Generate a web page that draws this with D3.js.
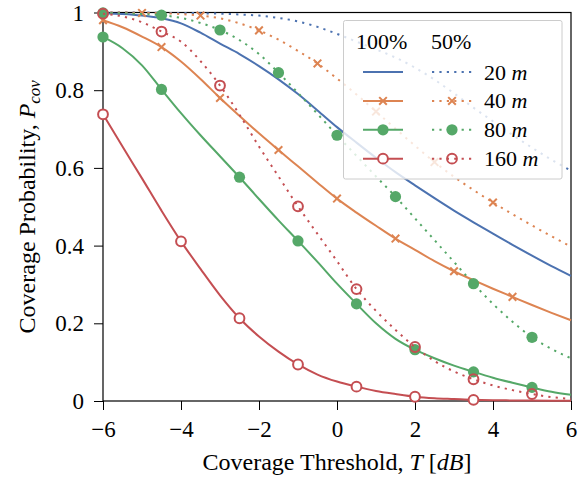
<!DOCTYPE html>
<html><head><meta charset="utf-8">
<script src="https://cdn.jsdelivr.net/npm/d3@7"></script>
<style>
body{margin:0;background:#fff}
text{font-family:"Liberation Serif","Times New Roman",serif;fill:#000}
</style>
</head><body>
<svg id="chart" width="588" height="482"></svg>
<script>
// ---------- data ----------
const thresholds = [-6,-5.5,-5,-4.5,-4,-3.5,-3,-2.5,-2,-1.5,-1,-0.5,0,0.5,1,1.5,2,2.5,3,3.5,4,4.5,5,5.5,6];
const xTicks = [-6,-4,-2,0,2,4,6];
const yTicks = [0,0.2,0.4,0.6,0.8,1];
const radii = ["20","40","80","160"];
const loadLabels = ["100%","50%"];

// 100% load
const full20  = [0.998,0.996,0.992,0.985,0.972,0.948,0.920,0.893,0.862,0.828,0.790,0.748,0.705,0.665,0.626,0.589,0.555,0.522,0.490,0.460,0.431,0.402,0.374,0.347,0.322];
const full40  = [0.980,0.962,0.938,0.911,0.874,0.829,0.780,0.734,0.689,0.646,0.604,0.562,0.521,0.485,0.451,0.418,0.389,0.360,0.334,0.311,0.289,0.268,0.247,0.227,0.208];
const full80  = [0.937,0.908,0.864,0.802,0.741,0.684,0.630,0.576,0.520,0.465,0.412,0.358,0.302,0.250,0.200,0.160,0.132,0.110,0.091,0.075,0.060,0.047,0.035,0.024,0.016];
const full160 = [0.738,0.655,0.573,0.490,0.411,0.340,0.272,0.213,0.166,0.127,0.094,0.068,0.050,0.037,0.026,0.018,0.011,0.007,0.005,0.003,0.002,0.0015,0.001,0.0007,0.0005];
// 50% load
const half20  = [1.000,1.000,1.000,0.999,0.999,0.998,0.997,0.995,0.992,0.986,0.977,0.963,0.945,0.925,0.905,0.884,0.858,0.827,0.792,0.755,0.720,0.685,0.652,0.621,0.593];
const half40  = [1.000,1.000,0.999,0.998,0.996,0.992,0.985,0.972,0.954,0.930,0.901,0.869,0.830,0.789,0.745,0.701,0.657,0.615,0.577,0.543,0.511,0.481,0.452,0.424,0.397];
const half80  = [0.999,0.998,0.996,0.993,0.986,0.973,0.955,0.929,0.893,0.845,0.793,0.739,0.684,0.631,0.578,0.526,0.470,0.414,0.358,0.302,0.250,0.204,0.164,0.134,0.110];
const half160 = [0.997,0.990,0.975,0.951,0.925,0.875,0.812,0.737,0.655,0.578,0.501,0.430,0.360,0.288,0.232,0.183,0.139,0.103,0.076,0.056,0.040,0.028,0.018,0.010,0.005];

// thresholds where markers are shown
const markFull20  = [];
const markFull40  = [-6,-4.5,-3,-1.5,0,1.5,3,4.5];
const markFull80  = [-6,-4.5,-2.5,-1,0.5,2,3.5,5];
const markFull160 = [-6,-4,-2.5,-1,0.5,2,3.5];
const markHalf20  = [];
const markHalf40  = [-5,-3.5,-2,-0.5,1,2.5,4];
const markHalf80  = [-6,-4.5,-3,-1.5,0,1.5,3.5,5];
const markHalf160 = [-6,-4.5,-3,-1,0.5,2,3.5,5];

// ---------- styles ----------
const colors = ["#4c72b0","#dd8452","#55a868","#c44e52"];
const markerTypes = ["none","x","dot","ring"];

const series = [
  {vals: full20,  marks: markFull20,  ci:0, half:false},
  {vals: full40,  marks: markFull40,  ci:1, half:false},
  {vals: full80,  marks: markFull80,  ci:2, half:false},
  {vals: full160, marks: markFull160, ci:3, half:false},
  {vals: half20,  marks: markHalf20,  ci:0, half:true},
  {vals: half40,  marks: markHalf40,  ci:1, half:true},
  {vals: half80,  marks: markHalf80,  ci:2, half:true},
  {vals: half160, marks: markHalf160, ci:3, half:true}
];

const m = {l:103, r:571, t:12.5, b:401};
const svg = d3.select("#chart");
const x = d3.scaleLinear().domain([-6,6]).range([m.l, m.r]);
const y = d3.scaleLinear().domain([0,1]).range([m.b, m.t]);
const DOT = "2.2,5.2";
const TICK_FS = 23, LABEL_FS = 24, LEG_FS = 22;

// axes
const fmtY = d => d === 0 ? "0" : (d === 1 ? "1" : d3.format(".1f")(d));
const fmtX = d => d < 0 ? "\u2212" + Math.abs(d) : String(d);

const gx = svg.append("g").attr("transform", `translate(0,${m.b})`)
  .call(d3.axisBottom(x).tickValues(xTicks).tickFormat(fmtX).tickSize(9).tickPadding(6));
const gy = svg.append("g").attr("transform", `translate(${m.l},0)`)
  .call(d3.axisLeft(y).tickValues(yTicks).tickFormat(fmtY).tickSize(9).tickPadding(10));
[gx, gy].forEach(g => {
  g.select(".domain").remove();
  g.selectAll(".tick line").attr("stroke","#000").attr("stroke-width",1);
  g.selectAll(".tick text").attr("font-size",TICK_FS).attr("font-family","'Liberation Serif',serif").attr("fill","#000");
});
gx.selectAll(".tick text").attr("dy","0.9em");
gy.selectAll(".tick text").attr("dy","0.33em");

svg.append("rect").attr("x",m.l).attr("y",m.t).attr("width",m.r-m.l).attr("height",m.b-m.t)
  .attr("fill","none").attr("stroke","#000").attr("stroke-width",1.2);

// axis labels
const xl = svg.append("text").attr("x",(m.l+m.r)/2).attr("y",470).attr("text-anchor","middle").attr("font-size",LABEL_FS);
xl.append("tspan").text("Coverage Threshold, ");
xl.append("tspan").attr("font-style","italic").text("T");
xl.append("tspan").text(" [");
xl.append("tspan").attr("font-style","italic").text("dB");
xl.append("tspan").text("]");

const yl = svg.append("text").attr("transform",`translate(35,${(m.t+m.b)/2}) rotate(-90)`)
  .attr("text-anchor","middle").attr("font-size",LABEL_FS);
yl.append("tspan").text("Coverage Probability, ");
yl.append("tspan").attr("font-style","italic").text("P");
yl.append("tspan").attr("font-style","italic").attr("font-size",17).attr("dy",5).text("cov");

// markers
function drawMarker(g, type, color, cx, cy, half) {
  if (type === "x") {
    const s = 3.8;
    g.append("path").attr("d",`M${cx-s},${cy-s}L${cx+s},${cy+s}M${cx-s},${cy+s}L${cx+s},${cy-s}`)
      .attr("stroke",color).attr("stroke-width",2).attr("fill","none");
  } else if (type === "dot") {
    g.append("circle").attr("cx",cx).attr("cy",cy).attr("r",5.6).attr("fill",color);
  } else if (type === "ring") {
    g.append("circle").attr("cx",cx).attr("cy",cy).attr("r",4.9)
      .attr("fill", half ? "none" : "#fff").attr("stroke",color).attr("stroke-width",2);
  }
}

const line = d3.line().x((d,i)=>x(thresholds[i])).y(d=>y(d)).curve(d3.curveMonotoneX);
const plot = svg.append("g");
series.forEach(s => {
  const col = colors[s.ci];
  plot.append("path").attr("d", line(s.vals)).attr("fill","none").attr("stroke",col)
    .attr("stroke-width",2).attr("stroke-dasharray", s.half ? DOT : null);
  s.marks.forEach(t => {
    const i = thresholds.indexOf(t);
    drawMarker(plot, markerTypes[s.ci], col, x(t), y(s.vals[i]), s.half);
  });
});

// legend
const lg = svg.append("g");
lg.append("rect").attr("x",343.5).attr("y",20.5).attr("width",218.5).attr("height",158.5).attr("rx",2)
  .attr("fill","#fff").attr("fill-opacity",0.8).attr("stroke","#cccccc").attr("stroke-width",1);
lg.append("text").attr("x",356).attr("y",49).attr("font-size",LEG_FS).text(loadLabels[0]);
lg.append("text").attr("x",431).attr("y",49).attr("font-size",LEG_FS).text(loadLabels[1]);
radii.forEach((r,k) => {
  const cy = 72 + k*28.9;
  const col = colors[k];
  lg.append("line").attr("x1",363).attr("x2",403).attr("y1",cy).attr("y2",cy).attr("stroke",col).attr("stroke-width",2);
  drawMarker(lg, markerTypes[k], col, 383, cy, false);
  lg.append("line").attr("x1",432).attr("x2",472).attr("y1",cy).attr("y2",cy).attr("stroke",col).attr("stroke-width",2)
    .attr("stroke-dasharray",DOT);
  drawMarker(lg, markerTypes[k], col, 452, cy, true);
  const t = lg.append("text").attr("x",484).attr("y",cy+7.5).attr("font-size",LEG_FS);
  t.append("tspan").text(r + " ");
  t.append("tspan").attr("font-style","italic").text("m");
});
</script>
</body></html>
